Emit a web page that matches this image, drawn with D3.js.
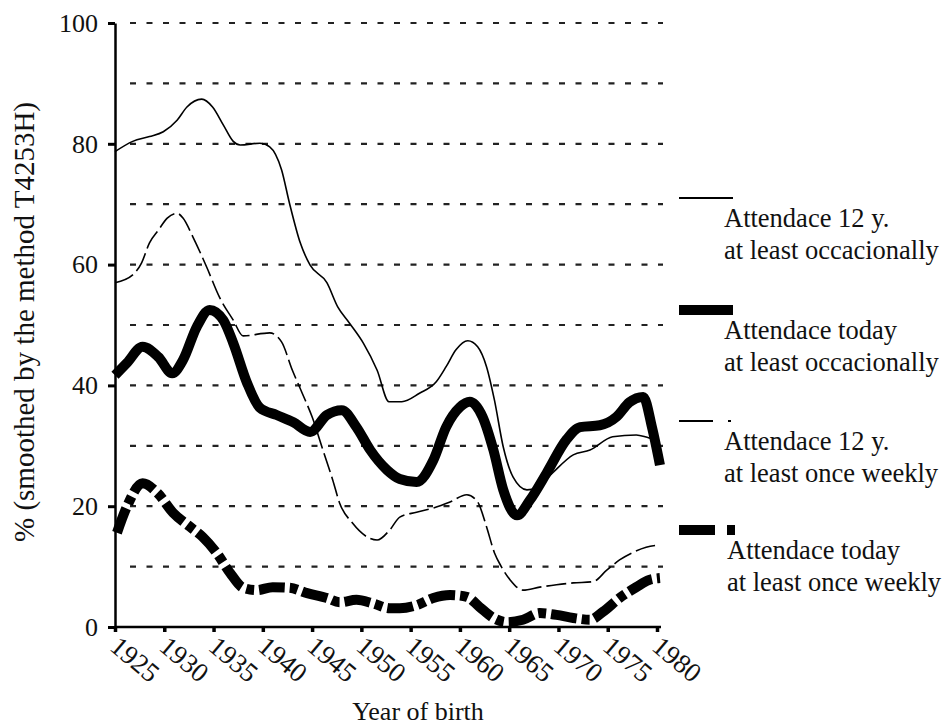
<!DOCTYPE html>
<html>
<head>
<meta charset="utf-8">
<script src="https://cdn.jsdelivr.net/npm/d3@7"></script>
<style>
  body { margin: 0; background: #fff; }
  svg { display: block; }
  svg text { font-family: "Liberation Serif", "Times New Roman", serif; }
</style>
</head>
<body>
<svg id="chart"></svg>
<script>
// year of birth ticks
const xTicks = [1925, 1930, 1935, 1940, 1945, 1950, 1955, 1960, 1965, 1970, 1975, 1980];
const yTicks = [0, 20, 40, 60, 80, 100];
const gridValues = [10, 20, 30, 40, 50, 60, 70, 80, 90, 100];

// Attendace 12 y. at least occacionally
const years12Occ = [1925, 1926.8, 1928.5, 1929.9, 1931.3, 1932.3, 1933.8, 1934.9, 1936, 1937, 1937.7, 1939.7, 1940.7, 1941.9, 1942.7, 1943.8, 1944.8, 1946.5, 1947.6, 1948.8, 1950.2, 1951.6, 1952.8, 1954.1, 1955.9, 1957.6, 1958.6, 1959.6, 1960.8, 1961.8, 1962.7, 1963.5, 1964.4, 1965.4, 1966.8, 1967.8, 1969.4, 1971.5, 1973.2, 1975.5, 1977.9, 1979.2, 1979.9];
const values12Occ = [78.7, 80.4, 81.2, 82, 83.9, 86.1, 87.4, 86.1, 83.1, 80.4, 79.8, 80.1, 79.5, 75.7, 70.2, 63.6, 59.9, 57, 53, 50.3, 47, 42.5, 37.3, 37.3, 38.7, 40.6, 43.1, 45.9, 47.4, 46.4, 43.1, 37.6, 29.8, 24.8, 22.7, 23, 25.5, 28.5, 29.3, 31.5, 31.8, 31.3, 31.1];

// Attendace today at least occacionally
const yearsTodayOcc = [1925, 1926.2, 1927.8, 1929.4, 1930.8, 1931.9, 1933.3, 1934.6, 1936, 1937, 1938.4, 1939.7, 1941.4, 1943.1, 1944.8, 1946.5, 1948, 1949.5, 1950.9, 1952.6, 1953.9, 1955.6, 1957.3, 1958.6, 1960, 1961, 1962.3, 1963.4, 1964.4, 1965.8, 1967.1, 1968.8, 1970.8, 1972.2, 1974.2, 1975.9, 1977.2, 1978.6, 1979.5, 1980.3];
const valuesTodayOcc = [41.7, 43.7, 46.4, 44.7, 42, 44.2, 49.7, 52.5, 50.8, 47, 40.4, 36.3, 35.1, 33.9, 32.3, 35.1, 35.9, 33.1, 29.3, 26, 24.5, 24, 27.6, 33.1, 36.4, 37.3, 34.8, 29.3, 22.7, 18.5, 21, 25.5, 31, 33.1, 33.4, 34.8, 37.2, 38.1, 33, 26.8];

// Attendace 12 y. at least once weekly
const years12Week = [1925, 1926.8, 1927.7, 1928.5, 1929.4, 1930.3, 1931.3, 1931.9, 1932.9, 1934.3, 1935.6, 1937, 1938, 1940.7, 1941.9, 1943, 1944, 1945, 1946.1, 1947.1, 1947.8, 1949.1, 1950.6, 1951.6, 1952.9, 1953.9, 1955.6, 1957.3, 1959, 1960.7, 1961.8, 1962.7, 1963.5, 1964.2, 1965.1, 1966.4, 1968.1, 1969.8, 1971.5, 1973.5, 1974.9, 1976.2, 1977.5, 1978.9, 1980.3];
const values12Week = [57, 58.3, 60.3, 63.6, 65.7, 67.7, 68.5, 67.7, 64.6, 59.6, 54.6, 50.8, 48.2, 48.7, 47.2, 42.5, 38.7, 34.8, 29.3, 24.3, 20.5, 17.2, 14.9, 14.4, 16.1, 18.2, 19, 19.7, 20.7, 21.9, 20.7, 16.6, 12.3, 10, 7.8, 6.1, 6.6, 7, 7.3, 7.5, 9.4, 11.1, 12.3, 13.2, 13.6];

// Attendace today at least once weekly
const yearsTodayWeek = [1925.2, 1926.2, 1927.8, 1929.3, 1930.9, 1932.6, 1933.9, 1935.3, 1936.7, 1938, 1939.4, 1941, 1942.7, 1944.5, 1946.5, 1947.8, 1949.5, 1951.2, 1952.9, 1953.9, 1955.6, 1957.3, 1959, 1960.7, 1962, 1963.4, 1964.8, 1966.4, 1968.1, 1969.8, 1971.5, 1973.2, 1974.5, 1976.2, 1977.9, 1979.2, 1980.3];
const valuesTodayWeek = [15.6, 19.9, 23.8, 22.2, 18.9, 16.6, 14.9, 12.3, 8.9, 6.5, 6.1, 6.6, 6.5, 5.6, 4.8, 4.1, 4.5, 3.9, 3.1, 3.1, 3.6, 4.8, 5.3, 5, 3.3, 1.5, 0.8, 1.2, 2.3, 2, 1.5, 1.2, 2.5, 4.8, 6.6, 7.8, 8.1];

const legendLines = [
  ["Attendace 12 y.", "at least occacionally"],
  ["Attendace today", "at least occacionally"],
  ["Attendace 12 y.", "at least once weekly"],
  ["Attendace today", "at least once weekly"]
];

const svgWidth = 943, svgHeight = 725;
const serif = "'Liberation Serif', 'Times New Roman', serif";
const svg = d3.select("#chart").attr("width", svgWidth).attr("height", svgHeight);

// scales
const x = d3.scaleLinear().domain([1925, 1980]).range([115, 657]);
const y = d3.scaleLinear().domain([0, 100]).range([627, 23]);

// dashed grid
svg.append("g")
  .selectAll("line")
  .data(gridValues)
  .enter()
  .append("line")
  .attr("x1", 130)
  .attr("x2", 663)
  .attr("y1", d => y(d))
  .attr("y2", d => y(d))
  .style("stroke", "#222")
  .style("stroke-width", 2.2)
  .style("stroke-dasharray", "6 10.5");

// axes
const yAxis = d3.axisLeft(y).tickValues(yTicks).tickSize(7).tickSizeOuter(0).tickPadding(10);
const gy = svg.append("g").attr("transform", "translate(115,0)").call(yAxis).attr("font-family", serif);
gy.select(".domain").style("stroke-width", 2.5);
gy.selectAll(".tick line").style("stroke-width", 3);
gy.selectAll("text")
  .style("font-size", "26px")
  .attr("fill", "#111");

const xAxis = d3.axisBottom(x).tickValues(xTicks).tickSize(5).tickSizeOuter(0).tickFormat(d3.format("d"));
const gx = svg.append("g").attr("transform", "translate(0,627)").call(xAxis).attr("font-family", serif);
gx.select(".domain").attr("d", `M115,0H661`).style("stroke-width", 2.5);
gx.selectAll(".tick line").style("stroke-width", 3.5);
gx.selectAll("text")
  .attr("x", 0)
  .attr("y", 0)
  .attr("dy", 0)
  .attr("text-anchor", "start")
  .attr("transform", "translate(-7,22) rotate(40)")
  .style("font-size", "27px")
  .attr("fill", "#111");

// axis titles
svg.append("text")
  .attr("transform", "translate(34,322) rotate(-90)")
  .attr("text-anchor", "middle")
  .style("font-size", "29px")
  .attr("fill", "#111")
  .text("% (smoothed by the method T4253H)");

svg.append("text")
  .attr("x", 418)
  .attr("y", 720)
  .attr("text-anchor", "middle")
  .style("font-size", "26px")
  .attr("fill", "#111")
  .text("Year of birth");

// lines
const line = d3.line()
  .x(d => x(d[0]))
  .y(d => y(d[1]))
  .curve(d3.curveMonotoneX);

function drawLine(years, values, width, dash) {
  svg.append("path")
    .datum(d3.zip(years, values))
    .attr("d", line)
    .style("fill", "none")
    .style("stroke", "#000")
    .style("stroke-width", width)
    .style("stroke-linejoin", "round")
    .style("stroke-dasharray", dash);
}

drawLine(years12Occ, values12Occ, 1.6, null);
drawLine(years12Week, values12Week, 1.6, "20 5");
drawLine(yearsTodayOcc, valuesTodayOcc, 10, null);
drawLine(yearsTodayWeek, valuesTodayWeek, 10, "26 5 8 5");

// legend
const legendY = [198, 310, 421, 530];
const legendTextX = [724, 724, 724, 727];
const legendStyles = [
  { w: 2, dash: null, x2: 733 },
  { w: 10, dash: null, x2: 733 },
  { w: 2, dash: "34 15 3 200", x2: 733 },
  { w: 10, dash: "36 12 8 200", x2: 735 }
];

legendLines.forEach((lines, i) => {
  const s = legendStyles[i];
  svg.append("line")
    .attr("x1", 679)
    .attr("x2", s.x2)
    .attr("y1", legendY[i])
    .attr("y2", legendY[i])
    .style("stroke", "#000")
    .style("stroke-width", s.w)
    .style("stroke-dasharray", s.dash);
  lines.forEach((t, j) => {
    svg.append("text")
      .attr("x", legendTextX[i])
      .attr("y", legendY[i] + 29 + j * 31.5)
      .style("font-size", "26.5px")
      .attr("fill", "#111")
      .text(t);
  });
});
</script>
</body>
</html>
